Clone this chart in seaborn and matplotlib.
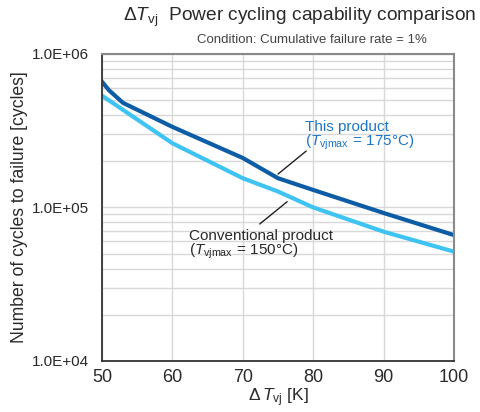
import pandas as pd
import matplotlib.pyplot as plt
import seaborn as sns
import numpy as np

# values (log scale, cycles)
dt_this = [50, 51, 53, 60, 70, 75, 80, 90, 100]
cycles_this = [6.6e5, 5.8e5, 4.8e5, 3.35e5, 2.1e5, 1.55e5, 1.3e5, 9.2e4, 6.6e4]

dt_conv = [50, 60, 70, 75, 80, 90, 100]
cycles_conv = [5.35e5, 2.62e5, 1.55e5, 1.27e5, 1.0e5, 6.95e4, 5.15e4]

x_ticks = [50, 60, 70, 80, 90, 100]
y_ticks = [1e4, 1e5, 1e6]
y_tick_labels = ["1.0E+04", "1.0E+05", "1.0E+06"]

dark_blue = "#0c5ca6"
light_blue = "#3ec3f2"
label_blue = "#1f77c4"
text_color = "#2a2a2a"

sns.set_style("white")
plt.rcParams["font.family"] = ["Liberation Sans", "Noto Sans CJK JP", "DejaVu Sans"]
plt.rcParams["mathtext.fontset"] = "custom"
plt.rcParams["mathtext.rm"] = "Liberation Sans"
plt.rcParams["mathtext.it"] = "Liberation Sans:italic"
plt.rcParams["mathtext.bf"] = "Liberation Sans:bold"

df_this = pd.DataFrame({"dt": dt_this, "cycles": cycles_this})
df_conv = pd.DataFrame({"dt": dt_conv, "cycles": cycles_conv})

fig = plt.figure(figsize=(4.81, 4.12), dpi=100)
ax = fig.add_axes([0.212, 0.124, 0.732, 0.745])

sns.lineplot(data=df_conv, x="dt", y="cycles", ax=ax, color=light_blue, linewidth=3)
sns.lineplot(data=df_this, x="dt", y="cycles", ax=ax, color=dark_blue, linewidth=3)

ax.set_yscale("log")
ax.set_xlim(50, 100)
ax.set_ylim(1e4, 1e6)
ax.set_xticks(x_ticks)
ax.set_xticklabels([str(t) for t in x_ticks], fontsize=13, color=text_color)
ax.set_yticks(y_ticks)
ax.set_yticklabels(y_tick_labels, fontsize=11, color=text_color)
ax.yaxis.set_minor_formatter(plt.NullFormatter())
ax.tick_params(axis="x", which="both", length=0, pad=6)
ax.tick_params(axis="y", which="both", length=0, pad=9)

ax.grid(True, which="major", color="#d8d8d8", linewidth=1)
ax.grid(True, which="minor", axis="y", color="#d8d8d8", linewidth=1)
ax.set_axisbelow(True)

for side in ["left", "bottom"]:
    ax.spines[side].set_color("#333333")
    ax.spines[side].set_linewidth(1.3)
for side in ["top", "right"]:
    ax.spines[side].set_color("#8a8a8a")
    ax.spines[side].set_linewidth(1.5)

ax.set_xlabel(r"$\Delta\,\mathit{T}_{\mathrm{vj}}$ [K]", fontsize=12.5, color=text_color, labelpad=0)
ax.set_ylabel("Number of cycles to failure [cycles]", fontsize=12.7, color=text_color, labelpad=3)

fig.text(0.99, 0.957, r"$\Delta\mathit{T}_{\mathrm{vj}}$  Power cycling capability comparison",
         ha="right", va="center", fontsize=13.8, color=text_color)
fig.text(0.649, 0.903, "Condition: Cumulative failure rate = 1%",
         ha="center", va="center", fontsize=9.5, color="#444444")

# labels with leader lines
ax.text(78.8, 3.34e5, "This product", fontsize=11, color=label_blue, ha="left", va="center")
ax.text(78.8, 2.64e5, "(" + r"$\mathit{T}_{\mathrm{vjmax}}$" + r"$\,=\,$" + "175°C)",
        fontsize=11, color=label_blue, ha="left", va="center")
ax.plot([75.0, 79.0], [1.65e5, 2.33e5], color="#222222", linewidth=1)

ax.text(62.4, 6.51e4, "Conventional product", fontsize=11, color=text_color, ha="left", va="center")
ax.text(62.4, 5.15e4, "(" + r"$\mathit{T}_{\mathrm{vjmax}}$" + r"$\,=\,$" + "150°C)",
        fontsize=11, color=text_color, ha="left", va="center")
ax.plot([72.4, 76.3], [7.8e4, 1.09e5], color="#222222", linewidth=1)

fig.savefig("out.png", dpi=100)
